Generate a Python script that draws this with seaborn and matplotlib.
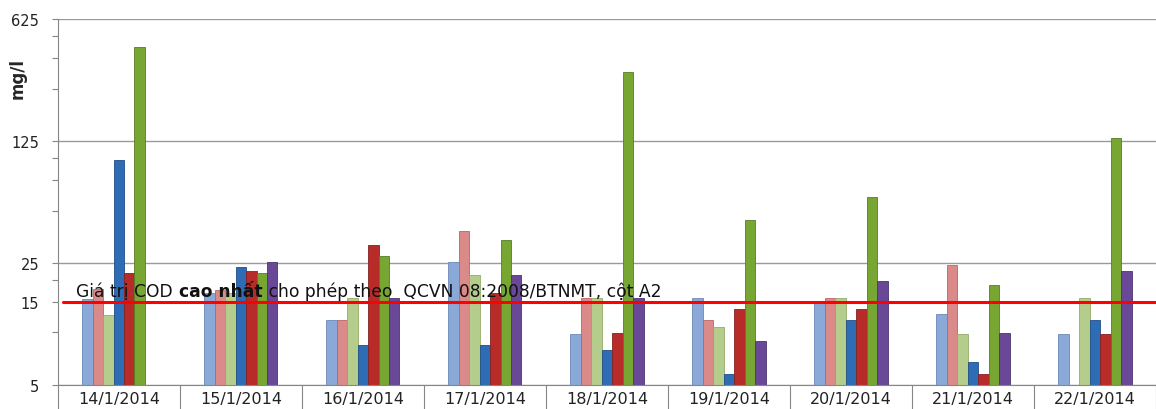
import numpy as np
import pandas as pd
import seaborn as sns
import matplotlib.pyplot as plt
from matplotlib.ticker import FixedLocator, FixedFormatter, NullFormatter

## data
dates = ['14/1/2014', '15/1/2014', '16/1/2014', '17/1/2014', '18/1/2014',
         '19/1/2014', '20/1/2014', '21/1/2014', '22/1/2014']
series = ['Điểm 1', 'Điểm 2', 'Điểm 3', 'Điểm 4', 'Điểm 5', 'Điểm 6', 'Điểm 7']
nan = np.nan
diem1 = [15.5, 16.8, 11.8, 25.4, 9.8, 15.7, 14.8, 12.7, 9.8]
diem2 = [17.8, 17.6, 11.8, 38.3, 15.7, 11.8, 15.7, 24.4, nan]
diem3 = [12.6, 16.8, 15.7, 21.3, 15.7, 10.8, 15.7, 9.8, 15.7]
diem4 = [98, 23.6, 8.5, 8.5, 7.9, 5.8, 11.8, 6.8, 11.8]
diem5 = [21.9, 22.6, 31.9, 16.8, 9.9, 13.7, 13.7, 5.8, 9.8]
diem6 = [431, 21.9, 27.5, 34.0, 312, 44.3, 59.5, 18.6, 130]
diem7 = [nan, 25.4, 15.7, 21.3, 15.7, 8.9, 19.7, 9.9, 22.6]
cod_limit = 15

colors = ['#8AA8D8', '#DA8A89', '#B5CD8C', '#2E6CB5', '#B72B29', '#78A633', '#694897']
edges = ['#6C88B8', '#B86665', '#93AB6B', '#1F4E85', '#842220', '#587C25', '#4B3471']

values = [diem1, diem2, diem3, diem4, diem5, diem6, diem7]
df = pd.DataFrame({
    'date': np.tile(dates, len(series)),
    'series': np.repeat(series, len(dates)),
    'cod': np.concatenate(values),
}).dropna()

## fig
sns.set_style('white')
plt.rcParams['font.family'] = ['DejaVu Sans']

fig = plt.figure(figsize=(11.56, 4.10), dpi=100)
ax = fig.add_axes([0.050, 0.0585, 0.950, 0.8925])
ax.set_yscale('log', base=5)

sns.barplot(data=df, x='date', y='cod', hue='series',
            order=dates, hue_order=series, palette=colors, saturation=1,
            width=0.6, errorbar=None, legend=False, ax=ax,
            linewidth=0.6)

# darker edges per series
for cont, ec in zip(ax.containers, edges):
    for bar in cont:
        bar.set_edgecolor(ec)

ax.set_ylim(5, 625)
ax.set_xlim(-0.5, len(dates) - 0.5)

# y ticks
ax.yaxis.set_major_locator(FixedLocator([5, 25, 125, 625]))
ax.yaxis.set_major_formatter(FixedFormatter(['5', '25', '125', '625']))
ax.yaxis.set_minor_locator(FixedLocator([10, 15, 20, 50, 75, 100, 250, 375, 500]))
ax.yaxis.set_minor_formatter(FixedFormatter(['', '15', '', '', '', '', '', '', '']))
ax.tick_params(axis='y', which='both', direction='out', length=4.5, width=0.8,
               color='#868686', labelsize=10.5, labelcolor='#222222', pad=9, left=True)
ax.grid(axis='y', which='major', color='#9A9A9A', linewidth=1)
ax.set_axisbelow(True)

# x ticks: labels centred, separator ticks between categories
ax.tick_params(axis='x', which='major', length=0, labelsize=11.5,
               labelcolor='#222222', pad=4)
ax.xaxis.set_minor_locator(FixedLocator(np.arange(-0.5, len(dates), 1.0)))
ax.xaxis.set_minor_formatter(NullFormatter())
ax.tick_params(axis='x', which='minor', direction='out', length=18, width=0.8,
               color='#868686', bottom=True)

for s in ['top', 'right']:
    ax.spines[s].set_visible(False)
for s in ['left', 'bottom']:
    ax.spines[s].set_color('#868686')
    ax.spines[s].set_linewidth(0.8)

ax.set_xlabel('')
ax.set_ylabel('mg/l', fontweight='bold', fontsize=12)
ax.yaxis.set_label_coords(-0.028, 0.84)

# limit line and caption
ax.axhline(cod_limit, xmin=0.005, color='#FF0000', linewidth=2.2, zorder=5)
t1 = ax.annotate('Giá trị COD', xy=(0.017, cod_limit),
                 xycoords=('axes fraction', 'data'), xytext=(0, 1.5),
                 textcoords='offset points', va='bottom', fontsize=12.3,
                 color='#111111', zorder=6)
t2 = ax.annotate(' cao nhất', xy=(1, 0), xycoords=t1, va='bottom',
                 fontsize=12.3, fontweight='bold', color='#111111', zorder=6)
t3 = ax.annotate(' cho phép theo  QCVN 08:2008/BTNMT, cột A2', xy=(1, 0),
                 xycoords=t2, va='bottom', fontsize=12.3, color='#111111', zorder=6)

fig.savefig('out.png', dpi=100)
